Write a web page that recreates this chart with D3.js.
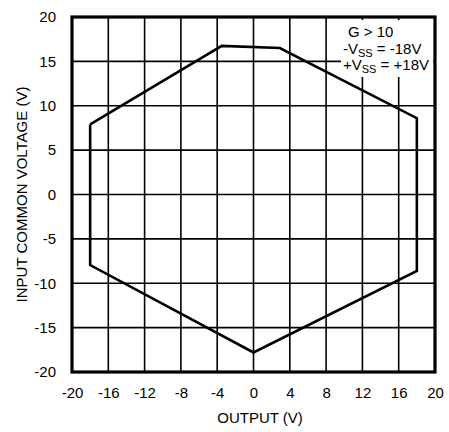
<!DOCTYPE html>
<html>
<head>
<meta charset="utf-8">
<script src="https://cdn.jsdelivr.net/npm/d3@7"></script>
<style>
  html, body { margin: 0; padding: 0; background: #fff; }
  svg { display: block; }
  text { font-family: "Liberation Sans", Arial, sans-serif; fill: #000; }
</style>
</head>
<body>
<svg id="chart" width="449" height="432"></svg>
<script>
// Common-mode input range boundary vs. output swing
const outputV = [-18, -3.5, 2.9, 18, 18, 0, -18, -18];
const inputCommonV = [7.9, 16.75, 16.5, 8.6, -8.6, -17.8, -7.95, 7.9];

const xTicks = [-20, -16, -12, -8, -4, 0, 4, 8, 12, 16, 20];
const yTicks = [-20, -15, -10, -5, 0, 5, 10, 15, 20];

const legendLines = [
  { pre: "G > 10", sub: "", post: "" },
  { pre: "-V", sub: "SS", post: " = -18V" },
  { pre: "+V", sub: "SS", post: " = +18V" }
];

const margin = { left: 72, right: 14, top: 17, bottom: 60 };
const W = 449, H = 432;
const FONT = "'Liberation Sans', Arial, sans-serif";
const svg = d3.select("#chart");

const x = d3.scaleLinear().domain([-20, 20]).range([margin.left, W - margin.right]);
const y = d3.scaleLinear().domain([-20, 20]).range([H - margin.bottom, margin.top]);

// Grid
const grid = svg.append("g");
grid.selectAll("line.vx").data(xTicks).join("line")
  .attr("x1", d => x(d)).attr("x2", d => x(d))
  .attr("y1", y(-20)).attr("y2", y(20))
  .attr("stroke", "#000").attr("stroke-width", 1.6);
grid.selectAll("line.hy").data(yTicks).join("line")
  .attr("x1", x(-20)).attr("x2", x(20))
  .attr("y1", d => y(d)).attr("y2", d => y(d))
  .attr("stroke", "#000").attr("stroke-width", 1.6);

// Legend backdrop
svg.append("rect")
  .attr("x", 341).attr("y", 20).attr("width", 92).attr("height", 57)
  .attr("fill", "#fff");

// Boundary polygon
const line = d3.line().x(d => x(d[0])).y(d => y(d[1]));
svg.append("path")
  .datum(outputV.map((v, i) => [v, inputCommonV[i]]))
  .attr("d", line)
  .attr("fill", "none").attr("stroke", "#000")
  .attr("stroke-width", 2.6).attr("stroke-linejoin", "miter");

// Frame
svg.append("rect")
  .attr("x", x(-20)).attr("y", y(20))
  .attr("width", x(20) - x(-20)).attr("height", y(-20) - y(20))
  .attr("fill", "none").attr("stroke", "#000").attr("stroke-width", 3.2);

// Axes
const xAxis = svg.append("g")
  .attr("transform", `translate(0,${y(-20)})`)
  .call(d3.axisBottom(x).tickValues(xTicks).tickSize(0).tickPadding(15).tickFormat(d => String(d)));
const yAxis = svg.append("g")
  .attr("transform", `translate(${x(-20)},0)`)
  .call(d3.axisLeft(y).tickValues(yTicks).tickSize(0).tickPadding(16).tickFormat(d => String(d)));
[xAxis, yAxis].forEach(a => {
  a.select(".domain").remove();
  a.selectAll("text").style("font-family", FONT)
    .style("font-size", "15px").attr("fill", "#000");
});

// Axis titles
svg.append("text")
  .attr("x", 260).attr("y", 423)
  .attr("text-anchor", "middle").style("font-size", "15px")
  .text("OUTPUT (V)");
svg.append("text")
  .attr("transform", `translate(27,${(y(20) + y(-20)) / 2}) rotate(-90)`)
  .attr("text-anchor", "middle").style("font-size", "15px")
  .text("INPUT COMMON VOLTAGE (V)");

// Legend text
const leg = svg.append("g");
legendLines.forEach((l, i) => {
  const t = leg.append("text")
    .attr("x", i === 0 ? 348 : 343).attr("y", 37 + i * 16.5)
    .style("font-size", "15px");
  t.append("tspan").text(l.pre);
  if (l.sub) {
    t.append("tspan").attr("dy", 3).style("font-size", "11px").text(l.sub);
    t.append("tspan").attr("dy", -3).text(l.post);
  }
});
</script>
</body>
</html>
